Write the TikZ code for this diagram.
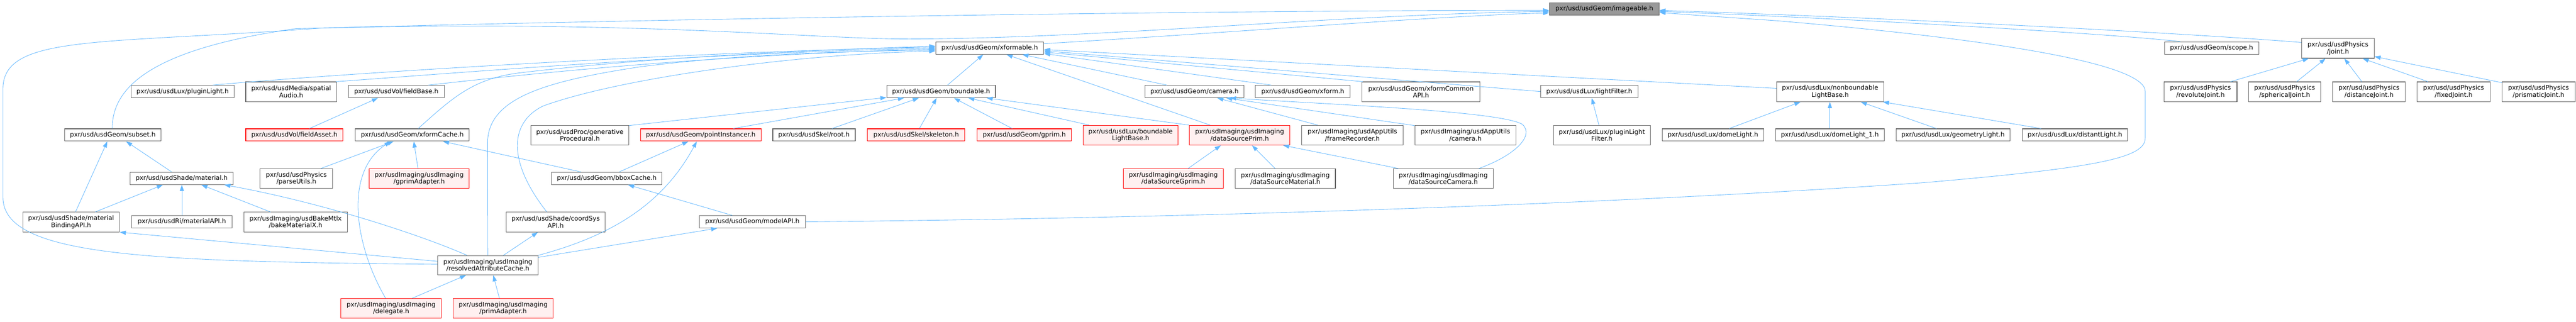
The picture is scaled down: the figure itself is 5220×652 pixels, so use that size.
\documentclass[tikz,border=0pt]{standalone}
\usepackage{fontspec}
\setmainfont{DejaVu Sans}
\usetikzlibrary{arrows.meta,calc}
\definecolor{edgeblue}{HTML}{63B8FF}
\definecolor{boxgray}{HTML}{666666}
\definecolor{redfill}{HTML}{FFF0F0}
\definecolor{rootfill}{HTML}{999999}
\newcommand{\nodefnt}{\fontsize{12.85}{14.1}\selectfont}
\tikzset{
  box/.style={draw=boxgray, fill=white, line width=1.1pt, inner sep=0pt, align=center, font=\nodefnt, text=black},
  redbox/.style={box, draw=red, fill=redfill},
  rootbox/.style={box, fill=rootfill},
  one/.style={minimum height=25pt},
  two/.style={minimum height=40pt},
  edge/.style={draw=edgeblue, line width=0.9pt, -{Triangle[length=12.5pt,width=8.5pt]}, fill=none},
}
\begin{document}
\begin{tikzpicture}[x=1pt,y=-1pt]
\fill[white] (0,0) rectangle (5220,652);
\useasboundingbox (0,0) rectangle (5220,652);

% ---- nodes ----
\node[rootbox,one,minimum width=222pt] (imageable) at (3251,18) {pxr/usd/usdGeom/imageable.h};
\node[box,one,minimum width=219pt] (xformable) at (2005.5,97.5) {pxr/usd/usdGeom/xformable.h};
\node[box,one,minimum width=191pt] (scope) at (4481.5,97.5) {pxr/usd/usdGeom/scope.h};
\node[box,two,minimum width=147pt] (joint) at (4737.5,98) {pxr/usd/usdPhysics\\/joint.h};
\node[box,two,minimum width=148pt] (revolute) at (4459,186) {pxr/usd/usdPhysics\\/revoluteJoint.h};
\node[box,two,minimum width=147pt] (spherical) at (4629.5,186) {pxr/usd/usdPhysics\\/sphericalJoint.h};
\node[box,two,minimum width=147pt] (distance) at (4800.5,186) {pxr/usd/usdPhysics\\/distanceJoint.h};
\node[box,two,minimum width=148pt] (fixed) at (4972,186) {pxr/usd/usdPhysics\\/fixedJoint.h};
\node[box,two,minimum width=148pt] (prismatic) at (5144,186) {pxr/usd/usdPhysics\\/prismaticJoint.h};

\node[box,one,minimum width=208pt] (pluginLight) at (370,185.5) {pxr/usd/usdLux/pluginLight.h};
\node[box,two,minimum width=184pt] (spatialAudio) at (590,186) {pxr/usd/usdMedia/spatial\\Audio.h};
\node[box,one,minimum width=194pt] (fieldBase) at (803,185.5) {pxr/usd/usdVol/fieldBase.h};
\node[box,one,minimum width=220pt] (boundable) at (1907,185.5) {pxr/usd/usdGeom/boundable.h};
\node[box,one,minimum width=201pt] (camera) at (2420.5,185.5) {pxr/usd/usdGeom/camera.h};
\node[box,one,minimum width=192pt] (xform) at (2640,185.5) {pxr/usd/usdGeom/xform.h};
\node[box,two,minimum width=239pt] (xformCommonAPI) at (2879.5,186) {pxr/usd/usdGeom/xformCommon\\API.h};
\node[box,one,minimum width=197pt] (lightFilter) at (3220.5,185.5) {pxr/usd/usdLux/lightFilter.h};
\node[box,two,minimum width=217pt] (nonboundable) at (3708.5,186) {pxr/usd/usdLux/nonboundable\\LightBase.h};

\node[box,one,minimum width=195pt] (subset) at (228.5,273.5) {pxr/usd/usdGeom/subset.h};
\node[redbox,one,minimum width=197pt] (fieldAsset) at (596.5,273.5) {pxr/usd/usdVol/fieldAsset.h};
\node[box,one,minimum width=231pt] (xformCache) at (835.5,273.5) {pxr/usd/usdGeom/xformCache.h};
\node[box,two,minimum width=198pt] (generativeProcedural) at (1175,274) {pxr/usd/usdProc/generative\\Procedural.h};
\node[redbox,one,minimum width=244pt] (pointInstancer) at (1420,273.5) {pxr/usd/usdGeom/pointInstancer.h};
\node[box,one,minimum width=167pt] (root) at (1649.5,273.5) {pxr/usd/usdSkel/root.h};
\node[redbox,one,minimum width=197pt] (skeleton) at (1856.5,273.5) {pxr/usd/usdSkel/skeleton.h};
\node[redbox,one,minimum width=191pt] (gprim) at (2075.5,273.5) {pxr/usd/usdGeom/gprim.h};
\node[redbox,two,minimum width=192pt] (boundableLightBase) at (2291,274) {pxr/usd/usdLux/boundable\\LightBase.h};
\node[redbox,two,minimum width=204pt] (dataSourcePrim) at (2512,274) {pxr/usdImaging/usdImaging\\/dataSourcePrim.h};
\node[box,two,minimum width=205pt] (frameRecorder) at (2740.5,274) {pxr/usdImaging/usdAppUtils\\/frameRecorder.h};
\node[box,two,minimum width=205pt] (appCamera) at (2969.5,274) {pxr/usdImaging/usdAppUtils\\/camera.h};
\node[box,two,minimum width=196pt] (pluginLightFilter) at (3246,274) {pxr/usd/usdLux/pluginLight\\Filter.h};
\node[box,one,minimum width=206pt] (domeLight) at (3471,273.5) {pxr/usd/usdLux/domeLight.h};
\node[box,one,minimum width=220pt] (domeLightOne) at (3708,273.5) {pxr/usd/usdLux/domeLight\_1.h};
\node[box,one,minimum width=231pt] (geometryLight) at (3957.5,273.5) {pxr/usd/usdLux/geometryLight.h};
\node[box,one,minimum width=213pt] (distantLight) at (4204.5,273.5) {pxr/usd/usdLux/distantLight.h};

\node[box,one,minimum width=208pt] (material) at (368,361.5) {pxr/usd/usdShade/material.h};
\node[box,two,minimum width=147pt] (parseUtils) at (600.5,362) {pxr/usd/usdPhysics\\/parseUtils.h};
\node[redbox,two,minimum width=203pt] (gprimAdapter) at (849.5,362) {pxr/usdImaging/usdImaging\\/gprimAdapter.h};
\node[box,one,minimum width=223pt] (bboxCache) at (1229.5,361.5) {pxr/usd/usdGeom/bboxCache.h};
\node[redbox,two,minimum width=203pt] (dataSourceGprim) at (2377.5,362) {pxr/usdImaging/usdImaging\\/dataSourceGprim.h};
\node[box,two,minimum width=203pt] (dataSourceMaterial) at (2604.5,362) {pxr/usdImaging/usdImaging\\/dataSourceMaterial.h};
\node[box,two,minimum width=203pt] (dataSourceCamera) at (2924.5,362) {pxr/usdImaging/usdImaging\\/dataSourceCamera.h};

\node[box,two,minimum width=196pt] (materialBindingAPI) at (144,450) {pxr/usd/usdShade/material\\BindingAPI.h};
\node[box,one,minimum width=203pt] (materialAPI) at (368.5,449.5) {pxr/usd/usdRi/materialAPI.h};
\node[box,two,minimum width=210pt] (bakeMaterialX) at (599,450) {pxr/usdImaging/usdBakeMtlx\\/bakeMaterialX.h};
\node[box,two,minimum width=200pt] (coordSysAPI) at (1126,450) {pxr/usd/usdShade/coordSys\\API.h};
\node[box,one,minimum width=215pt] (modelAPI) at (1524.5,449.5) {pxr/usd/usdGeom/modelAPI.h};
\node[box,minimum height=39pt,minimum width=203pt] (resolved) at (988.5,537.5) {pxr/usdImaging/usdImaging\\/resolvedAttributeCache.h};
\node[redbox,two,minimum width=203pt] (delegate) at (792.5,625) {pxr/usdImaging/usdImaging\\/delegate.h};
\node[redbox,two,minimum width=203pt] (primAdapter) at (1019.5,625) {pxr/usdImaging/usdImaging\\/primAdapter.h};

% ---- edges into imageable ----
\draw[edge] ($(subset.north)+(-1,0)$) .. controls (227,180) and (300,100) .. (600,58) .. controls (1600,32) and (2600,21) .. ($(imageable.west)+(0,3)$);
\draw[edge] ($(resolved.west)+(0,-2)$) .. controls (300,530) and (6,520) .. (6,400) -- (6,180) .. controls (6,70) and (200,90) .. (650,57) .. controls (1300,40) and (1650,80) .. (1850,79) .. controls (2250,77) and (2700,30) .. ($(imageable.west)+(0,5)$);
\draw[edge] ($(xformable.north east)+(0,4)$) .. controls (2500,66) and (2900,33) .. ($(imageable.west)+(0,8)$);
\draw[edge] ($(scope.north)+(-63,0)$) .. controls (4300,70) and (3800,40) .. ($(imageable.east)+(0,5)$);
\draw[edge] ($(joint.west)+(0,-12)$) .. controls (4400,65) and (3800,35) .. ($(imageable.east)+(0,3)$);
\draw[edge] (modelAPI.east) .. controls (2600,440) and (3400,405) .. (3900,370) .. controls (4250,340) and (4347,320) .. (4347,280) -- (4347,185) .. controls (4347,130) and (4050,80) .. (3600,42) .. controls (3500,35) and (3420,30) .. ($(imageable.east)+(0,7)$);

% ---- edges into xformable ----
\draw[edge] ($(pluginLight.north)+(61,0)$) .. controls (700,148) and (1400,105) .. ($(xformable.west)+(0,-2)$);
\draw[edge] ($(spatialAudio.north east)+(-2,0)$) .. controls (900,150) and (1400,108) .. ($(xformable.west)+(0,0)$);
\draw[edge] ($(fieldBase.north)+(65,0)$) .. controls (1000,158) and (1400,112) .. ($(xformable.west)+(0,2)$);
\draw[edge] ($(xformCache.north)+(12,0)$) .. controls (920,195) and (960,160) .. (1050,148) .. controls (1300,118) and (1600,103) .. ($(xformable.west)+(0,-4)$);
\draw[edge] ($(coordSysAPI.north)+(-18,0)$) .. controls (1030,330) and (1030,250) .. (1100,215) .. controls (1250,160) and (1600,110) .. ($(xformable.west)+(0,6)$);
\draw[edge] (resolved.north) -- (988,290) .. controls (988,200) and (1100,165) .. (1300,135) .. controls (1500,110) and (1700,104) .. ($(xformable.west)+(0,4)$);
\draw[edge] ($(boundable.north)+(13,0)$) -- ($(xformable.south)+(-13,0)$);
\draw[edge] ($(camera.north)+(-56,0)$) -- ($(xformable.south)+(66,0)$);
\draw[edge] ($(dataSourcePrim.north)+(-60,0)$) -- ($(xformable.south)+(34,0)$);
\draw[edge] ($(xform.north)+(-64,0)$) -- ($(xformable.east)+(0,11)$);
\draw[edge] ($(xformCommonAPI.north west)+(2,0)$) -- ($(xformable.east)+(0,8)$);
\draw[edge] (lightFilter.west) -- ($(xformable.east)+(0,5.5)$);
\draw[edge] ($(nonboundable.west)+(0,-7)$) -- ($(xformable.east)+(0,3)$);

% ---- boundable ----
\draw[edge] ($(pointInstancer.north)+(66,0)$) -- ($(boundable.south)+(-75,0)$);
\draw[edge] ($(root.north)+(36.5,0)$) -- ($(boundable.south)+(-45,0)$);
\draw[edge] ($(skeleton.north)+(6.5,0)$) -- ($(boundable.south)+(-9,0)$);
\draw[edge] ($(gprim.north)+(-24.5,0)$) -- ($(boundable.south)+(26,0)$);
\draw[edge] ($(boundableLightBase.north)+(-84,0)$) -- ($(boundable.south)+(55,0)$);
\draw[edge] (dataSourcePrim.north west) -- ($(boundable.south)+(92,0)$);
\draw[edge] ($(generativeProcedural.north east)+(0,1)$) -- ($(boundable.south west)+(0,-1)$);

% ---- lights ----
\draw[edge] ($(pluginLightFilter.north)+(-6,0)$) -- ($(lightFilter.south)+(5,0)$);
\draw[edge] ($(domeLight.north)+(33,0)$) -- ($(nonboundable.south)+(-60,0)$);
\draw[edge] (domeLightOne.north) -- (nonboundable.south -| domeLightOne.north);
\draw[edge] ($(geometryLight.north)+(-33.5,0)$) -- ($(nonboundable.south)+(62,0)$);
\draw[edge] ($(distantLight.north)+(-68.5,0)$) -- ($(nonboundable.south east)+(-2,0)$);

% ---- joints ----
\draw[edge] ($(revolute.north)+(61,0)$) -- ($(joint.south)+(-59,0)$);
\draw[edge] ($(spherical.north)+(24.5,0)$) -- ($(joint.south)+(-25,0)$);
\draw[edge] ($(distance.north)+(-14.5,0)$) -- ($(joint.south)+(13,0)$);
\draw[edge] ($(fixed.north)+(-52,0)$) -- ($(joint.south)+(50,0)$);
\draw[edge] ($(prismatic.north west)+(0,2)$) -- ($(joint.south east)+(0,-4)$);

% ---- subset / material ----
\draw[edge] ($(materialBindingAPI.north)+(9,0)$) -- ($(subset.south)+(-11,0)$);
\draw[edge] ($(material.north)+(-20,0)$) -- ($(subset.south)+(27,0)$);
\draw[edge] ($(materialBindingAPI.north)+(49,0)$) -- ($(material.south)+(-38,0)$);
\draw[edge] (materialAPI.north) -- (material.south -| materialAPI.north);
\draw[edge] ($(bakeMaterialX.north)+(-51,0)$) -- ($(material.south)+(40,0)$);
\draw[edge] ($(resolved.north)+(-42,0)$) .. controls (850,475) and (650,410) .. ($(material.south east)+(-18,0)$);
\draw[edge] ($(resolved.west)+(0,-8)$) -- (materialBindingAPI.south east);

% ---- fieldBase ----
\draw[edge] ($(fieldAsset.north)+(30.5,0)$) -- ($(fieldBase.south)+(-37,0)$);

% ---- xformCache ----
\draw[edge] ($(parseUtils.north)+(49.5,0)$) -- ($(xformCache.south)+(-38,0)$);
\draw[edge] ($(gprimAdapter.north)+(-2.5,0)$) -- ($(xformCache.south)+(3,0)$);
\draw[edge] ($(bboxCache.north)+(-52,0)$) -- ($(xformCache.south)+(62,0)$);
\draw[edge] ($(delegate.north)+(-11,0)$) .. controls (720,500) and (695,350) .. ($(xformCache.south)+(-44,0)$);

% ---- bbox / pointInstancer / resolved ----
\draw[edge] ($(modelAPI.north)+(-40.5,0)$) -- ($(bboxCache.south)+(43,0)$);
\draw[edge] ($(bboxCache.north)+(25,0)$) -- ($(pointInstancer.south)+(-25,0)$);
\draw[edge] (resolved.north east) .. controls (1230,480) and (1340,420) .. ($(pointInstancer.south)+(-8,0)$);
\draw[edge] ($(resolved.east)+(0,-16)$) -- ($(modelAPI.south)+(-71,0)$);
\draw[edge] ($(resolved.north)+(31.5,0)$) -- ($(coordSysAPI.south)+(-36,0)$);
\draw[edge] ($(delegate.north)+(42.5,0)$) -- ($(resolved.south)+(-44,0)$);
\draw[edge] ($(primAdapter.north)+(-7.5,0)$) -- ($(resolved.south)+(11,0)$);

% ---- camera ----
\draw[edge] ($(frameRecorder.north)+(-70.5,0)$) -- ($(camera.south)+(46,0)$);
\draw[edge] ($(appCamera.north west)+(0,1)$) -- ($(camera.south)+(64,0)$);
\draw[edge] ($(dataSourceCamera.north east)+(-30,0)$) .. controls (3070,315) and (3110,275) .. (3085,252) .. controls (3040,225) and (2700,212) .. ($(camera.south)+(72,0)$);

% ---- dataSourcePrim ----
\draw[edge] ($(dataSourceGprim.north)+(30,0)$) -- ($(dataSourcePrim.south)+(-38,0)$);
\draw[edge] ($(dataSourceMaterial.north)+(-20.5,0)$) -- ($(dataSourcePrim.south)+(25,0)$);
\draw[edge] ($(dataSourceCamera.north)+(-90.5,0)$) -- ($(dataSourcePrim.south)+(88,0)$);
\end{tikzpicture}
\end{document}
